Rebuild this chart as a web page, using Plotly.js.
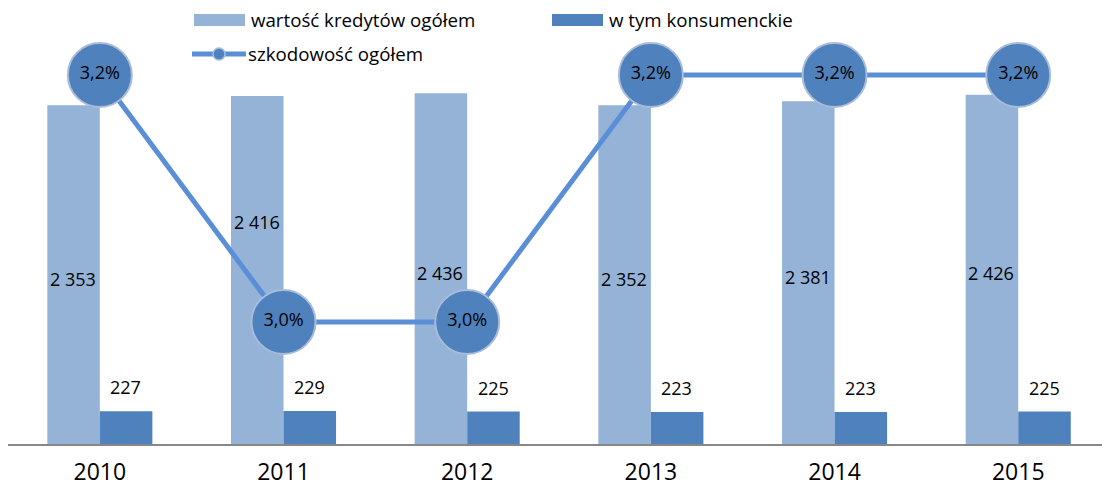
<!DOCTYPE html>
<html><head><meta charset="utf-8">
<script src="https://cdn.plot.ly/plotly-3.0.1.min.js"></script>
<style>html,body{margin:0;padding:0;background:#fff}#chart{width:1102px;height:493px}</style>
</head><body><div id="chart"></div>
<script>
const years = ['2010','2011','2012','2013','2014','2015'];
const totalLoans = [2353, 2416, 2436, 2352, 2381, 2426];
const consumerLoans = [227, 229, 225, 223, 223, 225];
const lossRatio = [3.2, 3.0, 3.0, 3.2, 3.2, 3.2];
const seriesNames = ['wartość kredytów ogółem', 'w tym konsumenckie', 'szkodowość ogółem'];

const FONT = '"Open Sans", sans-serif';
const C_LIGHT = '#95B3D7', C_DARK = '#4F81BD', C_LINE = '#5A8FD8', C_EDGE = '#A9BCDB';
const fmt = v => Math.round(v).toString().replace(/\B(?=(\d{3})+(?!\d))/g, ' ');

const W = 1102, H = 493, M = {l:8, r:0, t:12, b:49};
const PW = W - M.l - M.r, PH = H - M.t - M.b;
const px = x => (x - M.l) / PW;          // pixel -> paper x
const py = y => (H - M.b - y) / PH;      // pixel -> paper y

const traces = [
  {type:'bar', name:seriesNames[0], x:years, y:totalLoans, marker:{color:C_LIGHT}, hoverinfo:'skip'},
  {type:'bar', name:seriesNames[1], x:years, y:consumerLoans, marker:{color:C_DARK}, hoverinfo:'skip'},
  {type:'scatter', name:seriesNames[2], x:years, y:lossRatio, yaxis:'y2',
   mode:'lines+markers+text', text:lossRatio.map(v => v.toFixed(1).replace('.', ',') + '%'),
   textposition:'middle center', textfont:{family:FONT, size:18, color:'#000'},
   line:{color:C_LINE, width:5},
   marker:{size:64, color:C_DARK, line:{color:C_EDGE, width:2}},
   cliponaxis:false, hoverinfo:'skip'}
];

const lift = {'2011': 48};
const annotations = [];
years.forEach((yr, i) => {
  annotations.push({x: i, y: totalLoans[i] / 2, xref:'x', yref:'y', text: fmt(totalLoans[i]),
    showarrow:false, xshift:-27, yshift: lift[yr] || -4, font:{family:FONT, size:18, color:'#000'}});
  annotations.push({x: i, y: consumerLoans[i], xref:'x', yref:'y', text: fmt(consumerLoans[i]),
    showarrow:false, xshift:26, yanchor:'bottom', yshift:10, font:{family:FONT, size:18, color:'#000'}});
});

// hand-drawn legend (matches the original's wide swatches)
const shapes = [];
const legendItems = [
  {kind:'bar', color:C_LIGHT, x0:194, x1:245, y:20, tx:249, label:seriesNames[0]},
  {kind:'bar', color:C_DARK,  x0:552, x1:603, y:20, tx:607, label:seriesNames[1]},
  {kind:'line', color:C_LINE, x0:192, x1:246, y:54, tx:246, label:seriesNames[2]}
];
legendItems.forEach(it => {
  if (it.kind === 'bar') {
    shapes.push({type:'rect', xref:'paper', yref:'paper', x0:px(it.x0), x1:px(it.x1),
      y0:py(it.y + 6), y1:py(it.y - 6), fillcolor:it.color, line:{width:0}, layer:'above'});
  } else {
    shapes.push({type:'line', xref:'paper', yref:'paper', x0:px(it.x0), x1:px(it.x1),
      y0:py(it.y), y1:py(it.y), line:{color:it.color, width:5}, layer:'above'});
    const cx = (it.x0 + it.x1) / 2;
    shapes.push({type:'circle', xref:'paper', yref:'paper', x0:px(cx - 6), x1:px(cx + 6),
      y0:py(it.y + 6), y1:py(it.y - 6), fillcolor:C_DARK, line:{color:C_EDGE, width:1.5}, layer:'above'});
  }
  annotations.push({xref:'paper', yref:'paper', x:px(it.tx), y:py(it.y), xanchor:'left', yanchor:'middle',
    text:it.label, showarrow:false, font:{family:FONT, size:18.7, color:'#000'}});
});

const layout = {
  width:W, height:H,
  margin:M,
  paper_bgcolor:'#fff', plot_bgcolor:'#fff',
  font:{family:FONT, color:'#000'},
  barmode:'group', bargap:0.428, bargroupgap:0,
  showlegend:false,
  xaxis:{type:'category', range:[-0.5, 5.456], showline:true, linecolor:'#878787', linewidth:2,
         ticks:'', showgrid:false, zeroline:false, tickfont:{family:FONT, size:23, color:'#000'},
         ticklabelstandoff:6, fixedrange:true},
  yaxis:{range:[0, 3000], visible:false, showgrid:false, zeroline:false, fixedrange:true},
  yaxis2:{range:[2.9012, 3.251], overlaying:'y', visible:false, showgrid:false, zeroline:false, fixedrange:true},
  shapes,
  annotations
};

Plotly.newPlot('chart', traces, layout, {displayModeBar:false, staticPlot:true});
</script></body></html>
